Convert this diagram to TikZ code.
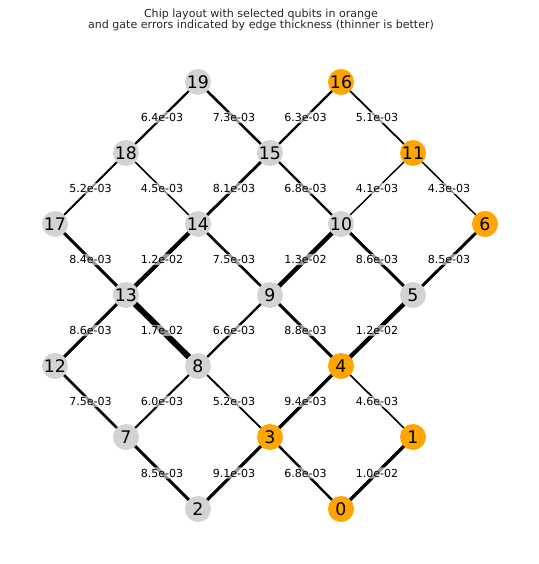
\documentclass[tikz,border=0pt]{standalone}
\usepackage{fontspec}
\setmainfont{DejaVu Sans}
\usetikzlibrary{backgrounds}

\definecolor{idle}{HTML}{D3D3D3}
\definecolor{picked}{HTML}{FFA500}

\begin{document}
\begin{tikzpicture}[
    x=0.75pt, y=-0.75pt,
    qubit/.style={circle, fill=idle, minimum size=19.5pt, inner sep=0pt, font=\fontsize{13}{13}\selectfont},
    chosen/.style={qubit, fill=picked},
    edge/.style={line width=#1*0.262pt},
    err/.style={font=\fontsize{8.3}{9}\selectfont, fill=white, fill opacity=0.6, text opacity=1, inner sep=1pt, rounded corners=2pt}
]
\useasboundingbox (0,0) rectangle (539,564);

\node[font=\fontsize{8.3}{8.6}\selectfont, align=center, text=black!85] (title) at (261,20)
    {Chip layout with selected qubits in orange\\and gate errors indicated by edge thickness (thinner is better)};

% qubits
\node[qubit]  (q19) at (198,82)  {19};
\node[chosen] (q16) at (341,82)  {16};
\node[qubit]  (q18) at (126,153) {18};
\node[qubit]  (q15) at (270,153) {15};
\node[chosen] (q11) at (413,153) {11};
\node[qubit]  (q17) at (55,224)  {17};
\node[qubit]  (q14) at (198,224) {14};
\node[qubit]  (q10) at (341,224) {10};
\node[chosen] (q6)  at (485,224) {6};
\node[qubit]  (q13) at (126,295) {13};
\node[qubit]  (q9)  at (270,295) {9};
\node[qubit]  (q5)  at (413,295) {5};
\node[qubit]  (q12) at (55,366)  {12};
\node[qubit]  (q8)  at (198,366) {8};
\node[chosen] (q4)  at (341,366) {4};
\node[qubit]  (q7)  at (126,437) {7};
\node[chosen] (q3)  at (270,437) {3};
\node[chosen] (q1)  at (413,437) {1};
\node[qubit]  (q2)  at (198,509) {2};
\node[chosen] (q0)  at (341,509) {0};

% couplers, width follows gate error
\begin{scope}[on background layer]
\draw[edge=6.4] (q19.center) -- node[err] {6.4e-03} (q18.center);
\draw[edge=7.3] (q19.center) -- node[err] {7.3e-03} (q15.center);
\draw[edge=6.3] (q16.center) -- node[err] {6.3e-03} (q15.center);
\draw[edge=5.1] (q16.center) -- node[err] {5.1e-03} (q11.center);
\draw[edge=5.2] (q18.center) -- node[err] {5.2e-03} (q17.center);
\draw[edge=4.5] (q18.center) -- node[err] {4.5e-03} (q14.center);
\draw[edge=8.1] (q15.center) -- node[err] {8.1e-03} (q14.center);
\draw[edge=6.8] (q15.center) -- node[err] {6.8e-03} (q10.center);
\draw[edge=4.1] (q11.center) -- node[err] {4.1e-03} (q10.center);
\draw[edge=4.3] (q11.center) -- node[err] {4.3e-03} (q6.center);
\draw[edge=8.4] (q17.center) -- node[err] {8.4e-03} (q13.center);
\draw[edge=12]  (q14.center) -- node[err] {1.2e-02} (q13.center);
\draw[edge=7.5] (q14.center) -- node[err] {7.5e-03} (q9.center);
\draw[edge=13]  (q10.center) -- node[err] {1.3e-02} (q9.center);
\draw[edge=8.6] (q10.center) -- node[err] {8.6e-03} (q5.center);
\draw[edge=8.5] (q6.center)  -- node[err] {8.5e-03} (q5.center);
\draw[edge=8.6] (q13.center) -- node[err] {8.6e-03} (q12.center);
\draw[edge=17]  (q13.center) -- node[err] {1.7e-02} (q8.center);
\draw[edge=6.6] (q9.center)  -- node[err] {6.6e-03} (q8.center);
\draw[edge=8.8] (q9.center)  -- node[err] {8.8e-03} (q4.center);
\draw[edge=12]  (q5.center)  -- node[err] {1.2e-02} (q4.center);
\draw[edge=7.5] (q12.center) -- node[err] {7.5e-03} (q7.center);
\draw[edge=6.0] (q8.center)  -- node[err] {6.0e-03} (q7.center);
\draw[edge=5.2] (q8.center)  -- node[err] {5.2e-03} (q3.center);
\draw[edge=9.4] (q4.center)  -- node[err] {9.4e-03} (q3.center);
\draw[edge=4.6] (q4.center)  -- node[err] {4.6e-03} (q1.center);
\draw[edge=8.5] (q7.center)  -- node[err] {8.5e-03} (q2.center);
\draw[edge=9.1] (q3.center)  -- node[err] {9.1e-03} (q2.center);
\draw[edge=6.8] (q3.center)  -- node[err] {6.8e-03} (q0.center);
\draw[edge=10]  (q1.center)  -- node[err] {1.0e-02} (q0.center);
\end{scope}
\end{tikzpicture}
\end{document}
